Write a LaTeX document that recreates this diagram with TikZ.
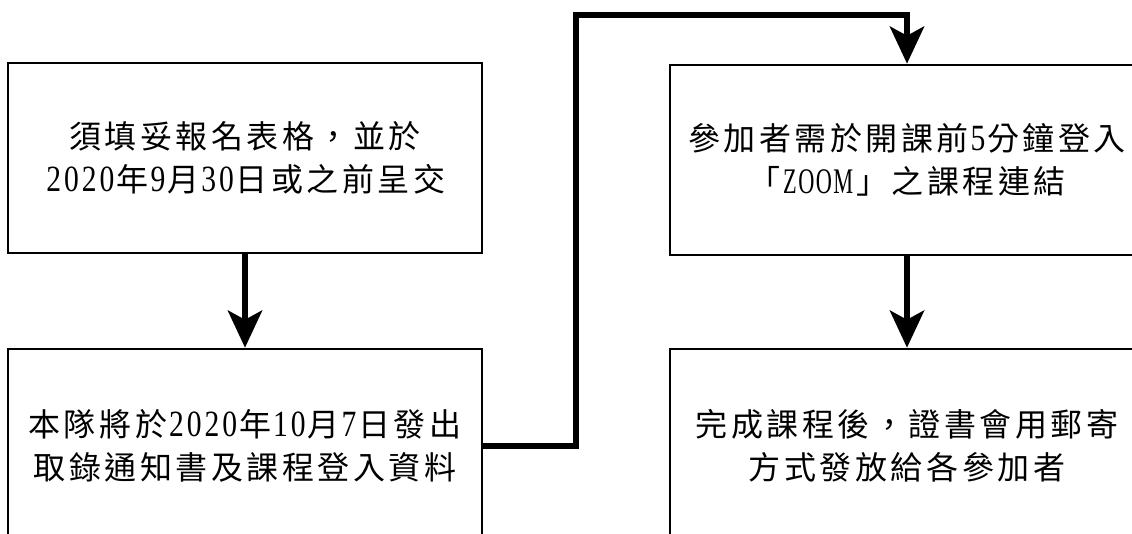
\documentclass[tikz,border=0pt]{standalone}
\usepackage{fontspec}
\setmainfont{Noto Sans CJK TC}[LetterSpace=11]
\newfontfamily\latn{Liberation Serif}[LetterSpace=8,FakeStretch=0.8]
\newfontfamily\latz{Liberation Serif}[LetterSpace=4,FakeStretch=0.62]
\newcommand{\lt}[1]{\hspace{2pt}{\fontsize{37}{43}\latn #1}\hspace{2pt}}
\newcommand{\lz}[1]{\hspace{3pt}{\fontsize{36}{43}\latz #1}\hspace{3pt}}
\usetikzlibrary{arrows.meta}
\begin{document}
\begin{tikzpicture}[x=1pt,y=-1pt,
  box/.style={draw=black, line width=2.6pt, minimum width=474pt, align=center,
    font=\fontsize{32}{43}\selectfont, inner sep=0pt},
  conn/.style={line width=6.5pt, -{Stealth[length=37pt,width=34pt,inset=9pt]}, line join=miter}]
\useasboundingbox (0,0) rectangle (1132,533);
\fill[white] (0,0) rectangle (1132,533);
\clip (0,0) rectangle (1132,533);
\node[box, minimum height=190pt] (b1) at (245,158) {須填妥報名表格，並於\\\lt{2020}年\lt{9}月\lt{30}日或之前呈交};
\node[box, minimum height=194pt] (b2) at (245,446) {本隊將於\lt{2020}年\lt{10}月\lt{7}日發出\\取錄通知書及課程登入資料};
\node[box, minimum height=190pt] (b3) at (907,160) {參加者需於開課前\lt{5}分鐘登入\\「\lz{ZOOM}」之課程連結};
\node[box, minimum height=194pt] (b4) at (907,446) {完成課程後，證書會用郵寄\\方式發放給各參加者};
\coordinate (t) at (576,15);
\draw[conn] (b1.south) -- (b2.north);
\draw[conn] (b3.south) -- (b4.north);
\draw[conn] (b2.east) -| (t) -| (b3.north);
\end{tikzpicture}
\end{document}
